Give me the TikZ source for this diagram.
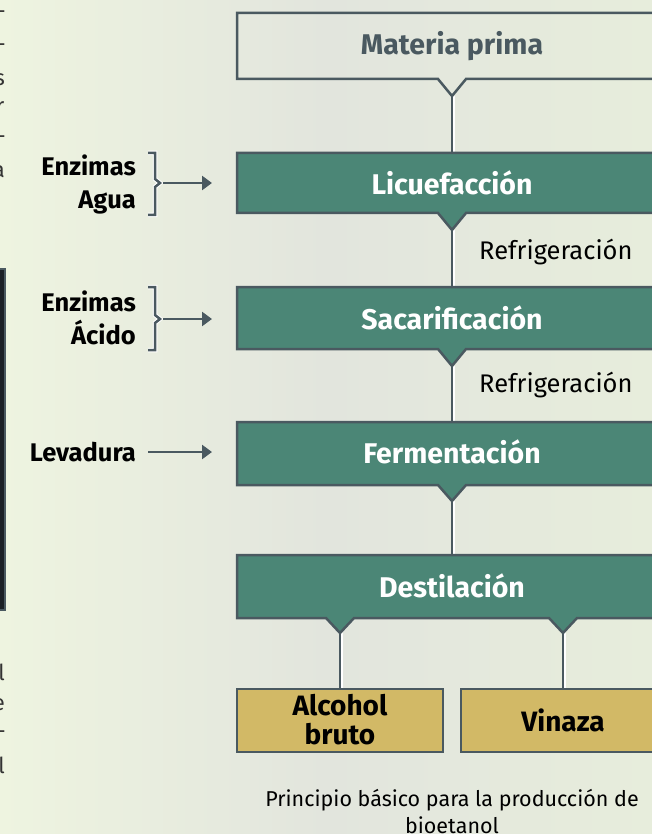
\documentclass[tikz,border=0pt]{standalone}
\usepackage{fontspec}
\setmainfont{Fira Sans}
\usetikzlibrary{arrows.meta,calc}
\definecolor{slate}{HTML}{4A5960}
\definecolor{boxgreen}{HTML}{4B8676}
\definecolor{boxgold}{HTML}{D2B966}
\definecolor{bgA}{HTML}{EEF4E0}
\definecolor{bgB}{HTML}{E2E5DD}
\definecolor{bgC}{HTML}{E7EDDC}
\definecolor{darkpanel}{HTML}{1B2026}
\tikzset{
  stepshape/.style={draw=slate, line width=2.5pt, line join=miter},
  greenbox/.style={stepshape, fill=boxgreen},
  goldbox/.style={stepshape, fill=boxgold},
  steplabel/.style={font=\bfseries\fontsize{28.5}{30}\selectfont, text=white, inner sep=0pt},
  prodlabel/.style={font=\bfseries\fontsize{28}{29}\selectfont, text=black, inner sep=0pt, align=center},
  inlabel/.style={font=\bfseries\fontsize{25.5}{33}\selectfont, text=black, inner sep=0pt, align=right, anchor=east},
  sidelabel/.style={font=\fontsize{25.5}{28}\selectfont, text=black, inner sep=0pt, anchor=west},
  caption/.style={font=\fontsize{21.5}{27}\selectfont, text=black, inner sep=0pt, align=center},
  frag/.style={font=\fontsize{22}{24}\selectfont, text=black!80, inner sep=0pt, anchor=east},
  connglow/.style={draw=white, line width=4pt},
  conn/.style={draw=slate, line width=2.5pt},
  bracket/.style={draw=slate, line width=2.5pt, line join=miter},
  inarrow/.style={draw=slate, line width=2.8pt, -{Triangle[length=10pt,width=14pt]}},
}
\begin{document}
\begin{tikzpicture}[x=1pt,y=-1pt]
\useasboundingbox (0,0) rectangle (652,834);
\clip (0,0) rectangle (652,834);
% background
\shade[left color=bgA, right color=bgC, middle color=bgB] (0,0) rectangle (652,834);

% fragments of neighbouring page
\node[frag] (f1) at (6,15) {-};
\node[frag] (f2) at (6,48) {-};
\node[frag] (f3) at (5,80) {s};
\node[frag] (f4) at (4.5,108) {r};
\node[frag] (f5) at (6,140) {-};
\node[frag] (f6) at (5,172) {a};
\node[frag] (f7) at (5,672) {l};
\node[frag] (f8) at (5,705) {e};
\node[frag] (f9) at (6,735) {-};
\node[frag] (f10) at (5,765) {l};
\draw[slate, line width=2pt, fill=darkpanel] (-20,269) rectangle (5,610);

% coordinates
\coordinate (mpTip) at (452,96);
\coordinate (licTop) at (452,153);
\coordinate (licTip) at (452,230);
\coordinate (sacTop) at (452,287);
\coordinate (sacTip) at (452,366);
\coordinate (ferTop) at (452,422);
\coordinate (ferTip) at (452,501);
\coordinate (desTop) at (452,555);
\coordinate (desTipA) at (340,633);
\coordinate (desTipB) at (563,633);
\coordinate (alcTop) at (340,689);
\coordinate (vinTop) at (563,689);

% connectors
\foreach \a/\b in {mpTip/licTop, licTip/sacTop, sacTip/ferTop, ferTip/desTop, desTipA/alcTop, desTipB/vinTop}{
  \draw[connglow] ($(\a)+(1.2,0)$) -- ($(\b)+(1.2,0)$);
  \draw[conn] (\a) -- (\b);
}

% boxes
\draw[stepshape] (237,13) -- (690,13) -- (690,79) -- (466,79) -- (mpTip) -- (438,79) -- (237,79) -- cycle;
\draw[greenbox] (237,153) -- (690,153) -- (690,213) -- (466,213) -- (licTip) -- (438,213) -- (237,213) -- cycle;
\draw[greenbox] (237,287) -- (690,287) -- (690,349) -- (466,349) -- (sacTip) -- (438,349) -- (237,349) -- cycle;
\draw[greenbox] (237,422) -- (690,422) -- (690,485) -- (466,485) -- (ferTip) -- (438,485) -- (237,485) -- cycle;
\draw[greenbox] (237,555) -- (690,555) -- (690,618) -- (577,618) -- (desTipB) -- (549,618)
   -- (354,618) -- (desTipA) -- (326,618) -- (237,618) -- cycle;
\draw[goldbox] (237,689) rectangle (443,752);
\draw[goldbox] (461,689) rectangle (690,752);

% labels
\node[steplabel, text=slate] (mp) at (452,46) {Materia prima};
\node[steplabel] (lic) at (452,183) {Licuefacción};
\node[steplabel] (sac) at (452,318) {Sacarificación};
\node[steplabel] (fer) at (452,452) {Fermentación};
\node[steplabel] (des) at (452,586) {Destilación};
\node[prodlabel] (alc) at (340,720) {Alcohol\\bruto};
\node[prodlabel] (vin) at (563,720) {Vinaza};
\node[sidelabel] (ref1) at (479,252) {Refrigeración};
\node[sidelabel] (ref2) at (479,385) {Refrigeración};
\node[caption] (cap) at (452,812) {Principio básico para la producción de\\bioetanol};

% inputs
\node[inlabel] (in1) at (136,184) {Enzimas\\Agua};
\node[inlabel] (in2) at (136,318) {Enzimas\\Ácido};
\node[inlabel] (in3) at (136,452) {Levadura};
\coordinate (b1) at (160,183);
\coordinate (b2) at (160,319);
\coordinate (b3) at (148,452);
\draw[draw=white, line width=4.5pt] (148,153) -- (155,153) -- (155,179) -- (b1) -- (155,187) -- (155,215) -- (148,215);
\draw[bracket] (148,153) -- (155,153) -- (155,179) -- (b1) -- (155,187) -- (155,215) -- (148,215);
\draw[draw=white, line width=4.5pt] (148,287) -- (155,287) -- (155,315) -- (b2) -- (155,323) -- (155,350) -- (148,350);
\draw[bracket] (148,287) -- (155,287) -- (155,315) -- (b2) -- (155,323) -- (155,350) -- (148,350);
\coordinate (lic-w) at (212,183);
\coordinate (sac-w) at (212,319);
\coordinate (fer-w) at (212,452);
\draw[inarrow] ($(b1)+(3,0)$) -- (lic-w);
\draw[inarrow] ($(b2)+(3,0)$) -- (sac-w);
\draw[inarrow] (b3) -- (fer-w);
\end{tikzpicture}
\end{document}
